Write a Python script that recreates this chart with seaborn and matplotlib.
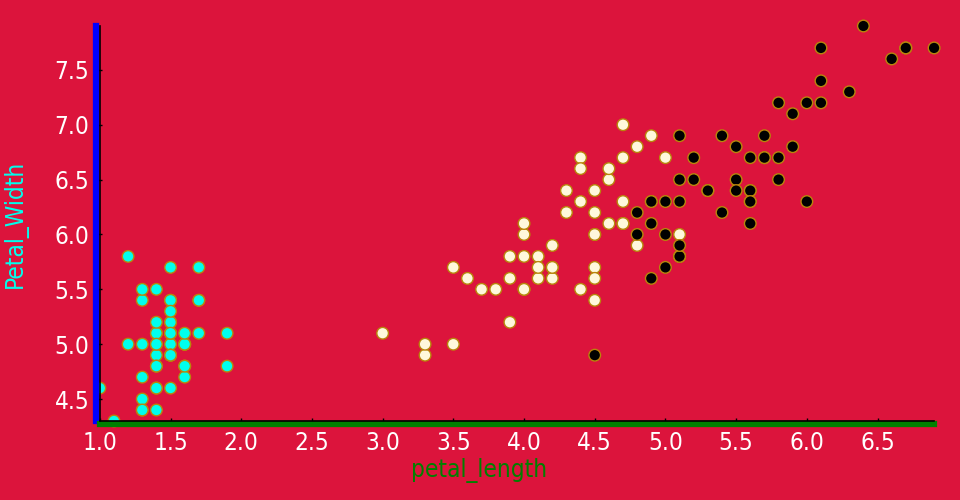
import pandas as pd
import matplotlib.pyplot as plt
import seaborn as sns

# iris: petal length and sepal length per species
setosa_petal_length = [1.4, 1.4, 1.3, 1.5, 1.4, 1.7, 1.4, 1.5, 1.4, 1.5,
                       1.5, 1.6, 1.4, 1.1, 1.2, 1.5, 1.3, 1.4, 1.7, 1.5,
                       1.7, 1.5, 1.0, 1.7, 1.9, 1.6, 1.6, 1.5, 1.4, 1.6,
                       1.6, 1.5, 1.5, 1.4, 1.5, 1.2, 1.3, 1.5, 1.3, 1.5,
                       1.3, 1.3, 1.3, 1.6, 1.9, 1.4, 1.6, 1.4, 1.5, 1.4]
setosa_sepal_length = [5.1, 4.9, 4.7, 4.6, 5.0, 5.4, 4.6, 5.0, 4.4, 4.9,
                       5.4, 4.8, 4.8, 4.3, 5.8, 5.7, 5.4, 5.1, 5.7, 5.1,
                       5.4, 5.1, 4.6, 5.1, 4.8, 5.0, 5.0, 5.2, 5.2, 4.7,
                       4.8, 5.4, 5.2, 5.5, 4.9, 5.0, 5.5, 4.9, 4.4, 5.1,
                       5.0, 4.5, 4.4, 5.0, 5.1, 4.8, 5.1, 4.6, 5.3, 5.0]

versicolor_petal_length = [4.7, 4.5, 4.9, 4.0, 4.6, 4.5, 4.7, 3.3, 4.6, 3.9,
                           3.5, 4.2, 4.0, 4.7, 3.6, 4.4, 4.5, 4.1, 4.5, 3.9,
                           4.8, 4.0, 4.9, 4.7, 4.3, 4.4, 4.8, 5.0, 4.5, 3.5,
                           3.8, 3.7, 3.9, 5.1, 4.5, 4.5, 4.7, 4.4, 4.1, 4.0,
                           4.4, 4.6, 4.0, 3.3, 4.2, 4.2, 4.2, 4.3, 3.0, 4.1]
versicolor_sepal_length = [7.0, 6.4, 6.9, 5.5, 6.5, 5.7, 6.3, 4.9, 6.6, 5.2,
                           5.0, 5.9, 6.0, 6.1, 5.6, 6.7, 5.6, 5.8, 6.2, 5.6,
                           5.9, 6.1, 6.3, 6.1, 6.4, 6.6, 6.8, 6.7, 6.0, 5.7,
                           5.5, 5.5, 5.8, 6.0, 5.4, 6.0, 6.7, 6.3, 5.6, 5.5,
                           5.5, 6.1, 5.8, 5.0, 5.6, 5.7, 5.7, 6.2, 5.1, 5.7]

virginica_petal_length = [6.0, 5.1, 5.9, 5.6, 5.8, 6.6, 4.5, 6.3, 5.8, 6.1,
                          5.1, 5.3, 5.5, 5.0, 5.1, 5.3, 5.5, 6.7, 6.9, 5.0,
                          5.7, 4.9, 6.7, 4.9, 5.7, 6.0, 4.8, 4.9, 5.6, 5.8,
                          6.1, 6.4, 5.6, 5.1, 5.6, 6.1, 5.6, 5.5, 4.8, 5.4,
                          5.6, 5.1, 5.1, 5.9, 5.7, 5.2, 5.0, 5.2, 5.4, 5.1]
virginica_sepal_length = [6.3, 5.8, 7.1, 6.3, 6.5, 7.6, 4.9, 7.3, 6.7, 7.2,
                          6.5, 6.4, 6.8, 5.7, 5.8, 6.4, 6.5, 7.7, 7.7, 6.0,
                          6.9, 5.6, 7.7, 6.3, 6.7, 7.2, 6.2, 6.1, 6.4, 7.2,
                          7.4, 7.9, 6.4, 6.3, 6.1, 7.7, 6.3, 6.4, 6.0, 6.9,
                          6.7, 6.9, 5.8, 6.8, 6.7, 6.7, 6.3, 6.5, 6.2, 5.9]

species = ["setosa", "versicolor", "virginica"]
colors = {"setosa": "#00FFEE", "versicolor": "#FFF8DC", "virginica": "black"}

df = pd.DataFrame({
    "petal_length": setosa_petal_length + versicolor_petal_length + virginica_petal_length,
    "sepal_length": setosa_sepal_length + versicolor_sepal_length + virginica_sepal_length,
    "species": [species[0]] * 50 + [species[1]] * 50 + [species[2]] * 50,
})

bg = "#DC143C"
fig, ax = plt.subplots(figsize=(9.6, 5), dpi=100)
fig.patch.set_facecolor(bg)
ax.set_facecolor(bg)

sns.scatterplot(data=df, x="petal_length", y="sepal_length", hue="species",
                palette=colors, s=70, edgecolor="darkgoldenrod", linewidth=1,
                legend=False, clip_on=False, zorder=2, ax=ax)

ax.set_xlim(1.0, 6.9)
ax.set_ylim(4.3, 7.9)
ax.set_xticks([1.0, 1.5, 2.0, 2.5, 3.0, 3.5, 4.0, 4.5, 5.0, 5.5, 6.0, 6.5])
ax.set_yticks([4.5, 5.0, 5.5, 6.0, 6.5, 7.0, 7.5])

# spines
ax.spines["top"].set_visible(False)
ax.spines["right"].set_visible(False)
ax.spines["left"].set_color("blue")
ax.spines["left"].set_linewidth(4.5)
ax.spines["left"].set_position(("outward", 2.5))
ax.spines["bottom"].set_color("green")
ax.spines["bottom"].set_linewidth(4.5)
ax.spines["bottom"].set_position(("outward", 2.5))
for sp in ["left", "bottom"]:
    ax.spines[sp].set_zorder(3)
ax.axvline(1.0, color="black", lw=1.2, zorder=4, clip_on=False)
ax.axhline(4.3, color="black", lw=1.2, zorder=4, clip_on=False)

ax.tick_params(axis="both", colors="black", length=4, width=1, direction="in", pad=5)
for lab in ax.get_xticklabels() + ax.get_yticklabels():
    lab.set_color("white")
    lab.set_fontsize(17.5)
    lab.set_fontstretch("condensed")

ax.set_xlabel("petal_length", color="green", fontsize=17.5, fontstretch="condensed")
ax.set_ylabel("Petal_Width", color="#00FFEE", fontsize=17.5, fontstretch="condensed")
ax.xaxis.set_label_coords(0.455, -0.093)
ax.yaxis.set_label_coords(-0.086, 0.5)

plt.subplots_adjust(left=0.104, right=0.973, top=0.948, bottom=0.158)
plt.savefig("out.png", dpi=100, facecolor=bg)
